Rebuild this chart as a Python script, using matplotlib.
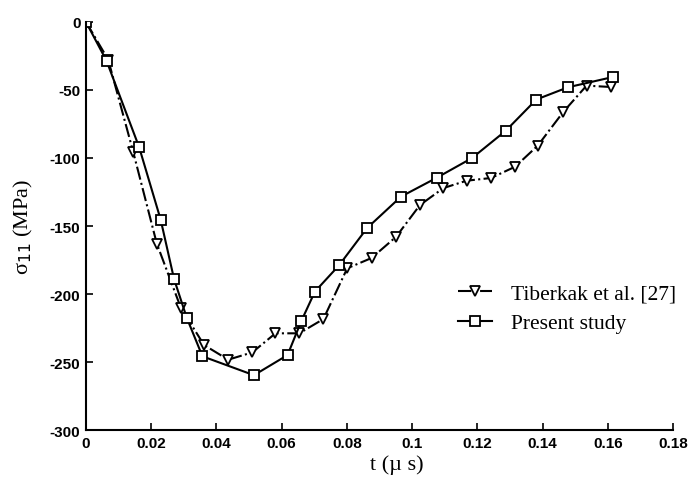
import matplotlib
matplotlib.use("Agg")
from matplotlib import pyplot as plt
from matplotlib.ticker import FormatStrFormatter

plt.rcParams['axes.unicode_minus'] = False

# Tiberkak et al. [27]
t_tib = [0.0, 0.0068, 0.0145, 0.0217, 0.0291, 0.0362, 0.0436, 0.0510, 0.0581,
         0.0654, 0.0728, 0.0801, 0.0876, 0.0951, 0.1024, 0.1096, 0.1167,
         0.1242, 0.1316, 0.1385, 0.1464, 0.1535, 0.1610]
s_tib = [0.0, -27.7, -95.8, -162.9, -210.3, -237.5, -248.3, -242.9, -228.9,
         -228.9, -218.4, -181.1, -173.5, -157.9, -134.6, -122.1, -116.7,
         -114.7, -106.4, -91.0, -66.0, -46.8, -47.8]

# Present study
t_pre = [0.0, 0.0063, 0.0163, 0.0229, 0.0270, 0.0309, 0.0357, 0.0515, 0.0618,
         0.0660, 0.0702, 0.0776, 0.0862, 0.0966, 0.1075, 0.1184, 0.1287,
         0.1381, 0.1478, 0.1615]
s_pre = [0.0, -28.6, -92.1, -145.4, -189.0, -217.5, -245.8, -259.7, -244.9,
         -220.0, -198.2, -178.9, -151.5, -128.4, -114.6, -100.0, -80.0,
         -57.0, -48.0, -40.5]

xticks = [0, 0.02, 0.04, 0.06, 0.08, 0.1, 0.12, 0.14, 0.16, 0.18]
yticks = [0, -50, -100, -150, -200, -250, -300]

fig = plt.figure(figsize=(6.92, 4.85), dpi=100)
ax = fig.add_axes([0.1243, 0.1113, 0.8482, 0.8413])

ax.plot(t_tib, s_tib, '-.', color='black', lw=1.5, marker='v', ms=7.5,
        mfc='white', mec='black', mew=1.3, label='Tiberkak et al. [27]')
ax.plot(t_pre, s_pre, '-', color='black', lw=1.5, marker='s', ms=6.5,
        mfc='white', mec='black', mew=1.3, label='Present study')

ax.set_xlim(0, 0.18)
ax.set_ylim(-300, 0)
ax.set_xticks(xticks)
ax.set_yticks(yticks)
ax.xaxis.set_major_formatter(FormatStrFormatter('%g'))
ax.yaxis.set_major_formatter(FormatStrFormatter('%g'))

for s in ['top', 'right']:
    ax.spines[s].set_visible(False)
for s in ['left', 'bottom']:
    ax.spines[s].set_linewidth(1.5)

ax.tick_params(direction='in', length=5, width=1.2, pad=4)
for lab in ax.get_xticklabels() + ax.get_yticklabels():
    lab.set_fontfamily('Liberation Sans')
    lab.set_fontweight('bold')
    lab.set_fontsize(11)

ax.set_xlabel('t (\u00b5 s)', family='Liberation Serif', fontsize=16)
ax.xaxis.set_label_coords(0.53, -0.06)
ax.set_ylabel('\u03c3$_{11}$ (MPa)', family='Liberation Serif', fontsize=16, labelpad=11)

ax.legend(loc='upper left', bbox_to_anchor=(0.6, 0.407), frameon=False,
          prop={'family': 'Liberation Serif', 'size': 15.5},
          handlelength=1.6, handletextpad=0.9, labelspacing=0.45)

fig.savefig('out.png', dpi=100)
